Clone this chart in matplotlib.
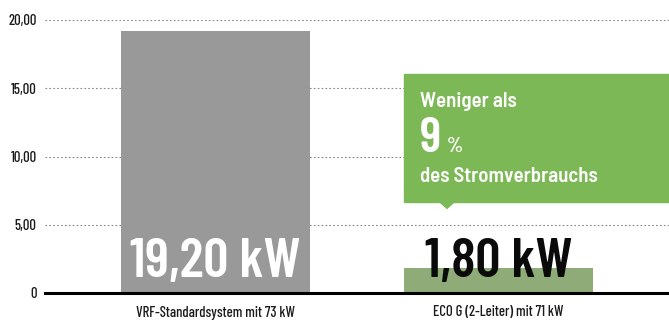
import matplotlib
matplotlib.use("Agg")
import matplotlib.pyplot as plt
from matplotlib.patches import Rectangle, Polygon

plt.rcParams['font.family'] = ['Barlow Condensed', 'DejaVu Sans']

# Leistungsaufnahme der beiden Systeme
categories = ['VRF-Standardsystem mit 73 kW', 'ECO G (2-Leiter) mit 71 kW']
values = [19.20, 1.80]
value_labels = ['19,20 kW', '1,80 kW']
yticks = [0, 5, 10, 15, 20]
ytick_labels = ['0', '5,00', '10,00', '15,00', '20,00']

bar_colors = ['#999999', '#8fab78']
label_colors = ['white', '#0a0a0a']

fig = plt.figure(figsize=(6.69, 3.23), dpi=100)
ax = fig.add_axes([45 / 669, 30 / 323, 624 / 669, 273 / 323])

x = [0, 1]
ax.bar(x, values, width=0.668, color=bar_colors, zorder=2)

ax.set_xlim(-0.6025, 1.6025)
ax.set_ylim(0, 20)
ax.set_yticks(yticks)
ax.set_yticklabels(ytick_labels, fontsize=10.5, fontweight='medium', color='#1a1a1a')
ax.set_xticks(x)
ax.set_xticklabels(categories, fontsize=10.5, fontweight='medium', color='#1a1a1a')
ax.tick_params(length=0)
ax.tick_params(axis='x', pad=9)
ax.tick_params(axis='y', pad=6)

for v in yticks[1:]:
    ax.axhline(v, color='#888888', lw=0.8, ls=(0, (1.5, 2)), zorder=1)

for s in ['top', 'right', 'left']:
    ax.spines[s].set_visible(False)
ax.spines['bottom'].set_linewidth(2.2)
ax.spines['bottom'].set_color('black')
ax.spines['bottom'].set_zorder(3)

# Wertbeschriftung in den Balken
for xi, lab, c in zip(x, value_labels, label_colors):
    ax.text(xi, 1.17, lab, ha='center', va='baseline', fontsize=40,
            fontweight='semibold', color=c, zorder=4)

# Sprechblase ueber dem ECO G Balken
green = '#7cb956'
box_font = ['Barlow Semi Condensed', 'DejaVu Sans']
ax.add_patch(Rectangle((0.666, 6.7), 1.0, 9.35, color=green, zorder=3,
                       clip_on=False))
ax.add_patch(Polygon([(0.79, 6.72), (0.846, 6.72), (0.818, 6.2)],
                     closed=True, color=green, zorder=3))
ax.text(0.7226, 13.63, 'Weniger als', fontsize=15, fontweight='semibold',
        family=box_font, color='white', va='baseline', zorder=4)
ax.text(0.7226, 10.33, '9', fontsize=36, fontweight='semibold', color='white',
        va='baseline', zorder=4)
ax.text(0.816, 10.33, '%', fontsize=15, fontweight='semibold', color='white',
        va='baseline', zorder=4)
ax.text(0.7226, 8.13, 'des Stromverbrauchs', fontsize=15, fontweight='semibold',
        family=box_font, color='white', va='baseline', zorder=4)

fig.savefig('out.png', dpi=100)
